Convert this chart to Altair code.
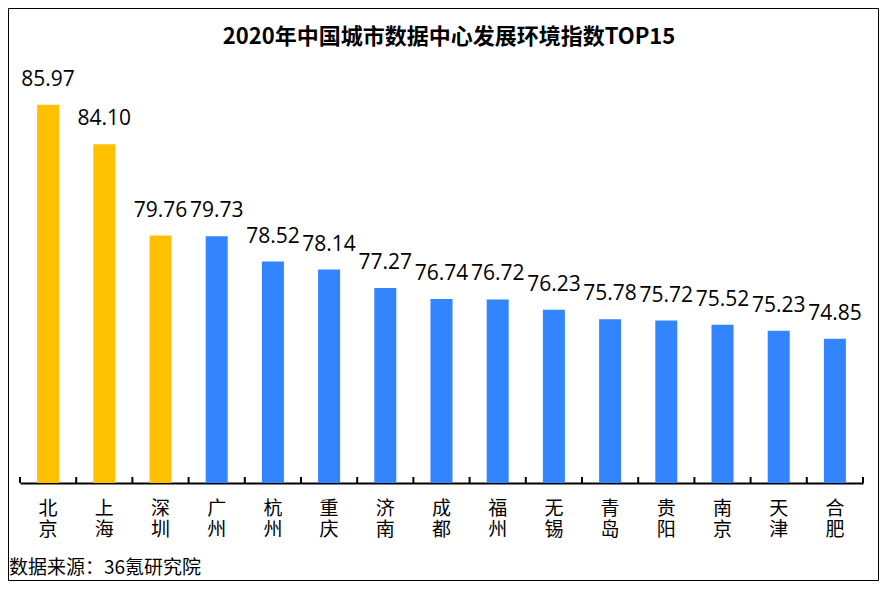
import altair as alt
import pandas as pd

title_text = "2020年中国城市数据中心发展环境指数TOP15"
source_text = "数据来源：36氪研究院"
cities = ["北京", "上海", "深圳", "广州", "杭州", "重庆", "济南", "成都",
          "福州", "无锡", "青岛", "贵阳", "南京", "天津", "合肥"]
values = [85.97, 84.10, 79.76, 79.73, 78.52, 78.14, 77.27, 76.74,
          76.72, 76.23, 75.78, 75.72, 75.52, 75.23, 74.85]
groups = ["top3"] * 3 + ["other"] * 12

df = pd.DataFrame({"city": cities, "value": values, "group": groups})

W, H = 843, 463
Y_MIN, Y_MAX = 68, 90

xenc = alt.X("city:N", sort=cities,
             scale=alt.Scale(paddingInner=0, paddingOuter=0),
             axis=alt.Axis(title=None, labelAngle=0, ticks=False,
                           labelExpr="split(datum.label, '')",
                           labelFont="Noto Sans CJK SC", labelFontSize=19,
                           labelLineHeight=21, labelColor="black",
                           labelPadding=16, domainColor="black",
                           domainWidth=2, labelBaseline="top"))
yscale = alt.Scale(domain=[Y_MIN, Y_MAX], zero=False, nice=False)

base = alt.Chart(df)

bars = base.mark_bar(width=22).encode(
    x=xenc,
    y=alt.Y("value:Q", scale=yscale, axis=None),
    y2=alt.datum(Y_MIN),
    color=alt.Color("group:N",
                    scale=alt.Scale(domain=["top3", "other"],
                                    range=["#FFC000", "#3385FF"]),
                    legend=None),
)

labels = base.mark_text(baseline="alphabetic", dy=-19, font="Open Sans",
                        fontSize=21, color="black").encode(
    x=alt.X("city:N", sort=cities),
    y=alt.Y("value:Q", scale=yscale),
    text=alt.Text("value:Q", format=".2f"),
)

ticks = base.mark_rule(color="black", strokeWidth=2).encode(
    x=alt.X("city:N", sort=cities, bandPosition=0),
    y=alt.value(H - 6),
    y2=alt.value(H),
)
last_tick = base.transform_filter(
    alt.datum.city == cities[-1]
).mark_rule(color="black", strokeWidth=2).encode(
    x=alt.X("city:N", sort=cities, bandPosition=1),
    y=alt.value(H - 6),
    y2=alt.value(H),
)

title = alt.Chart(pd.DataFrame({"t": [title_text]})).mark_text(
    font="Noto Sans CJK SC", fontSize=22, fontWeight="bold",
    baseline="middle", align="center", color="black").encode(
    x=alt.value(429), y=alt.value(17), text="t:N")

footer = alt.Chart(pd.DataFrame({"t": [source_text]})).mark_text(
    font="Noto Sans CJK SC", fontSize=19, baseline="middle",
    align="left", color="black").encode(
    x=alt.value(-11), y=alt.value(548), text="t:N")

border = alt.Chart(pd.DataFrame({"t": [0]})).mark_rect(
    fillOpacity=0, stroke="black", strokeWidth=1).encode(
    x=alt.value(-11.5), x2=alt.value(858.5),
    y=alt.value(-11.5), y2=alt.value(560.5))

chart = alt.layer(bars, labels, ticks, last_tick, title, footer, border).properties(
    width=W, height=H,
    background="white",
    autosize=alt.AutoSizeParams(type="none"),
    padding={"left": 12, "top": 12, "right": 16, "bottom": 98},
).configure_view(strokeWidth=0, stroke="transparent")

chart.save("out.html", embed_options={"renderer": "svg", "actions": False})
